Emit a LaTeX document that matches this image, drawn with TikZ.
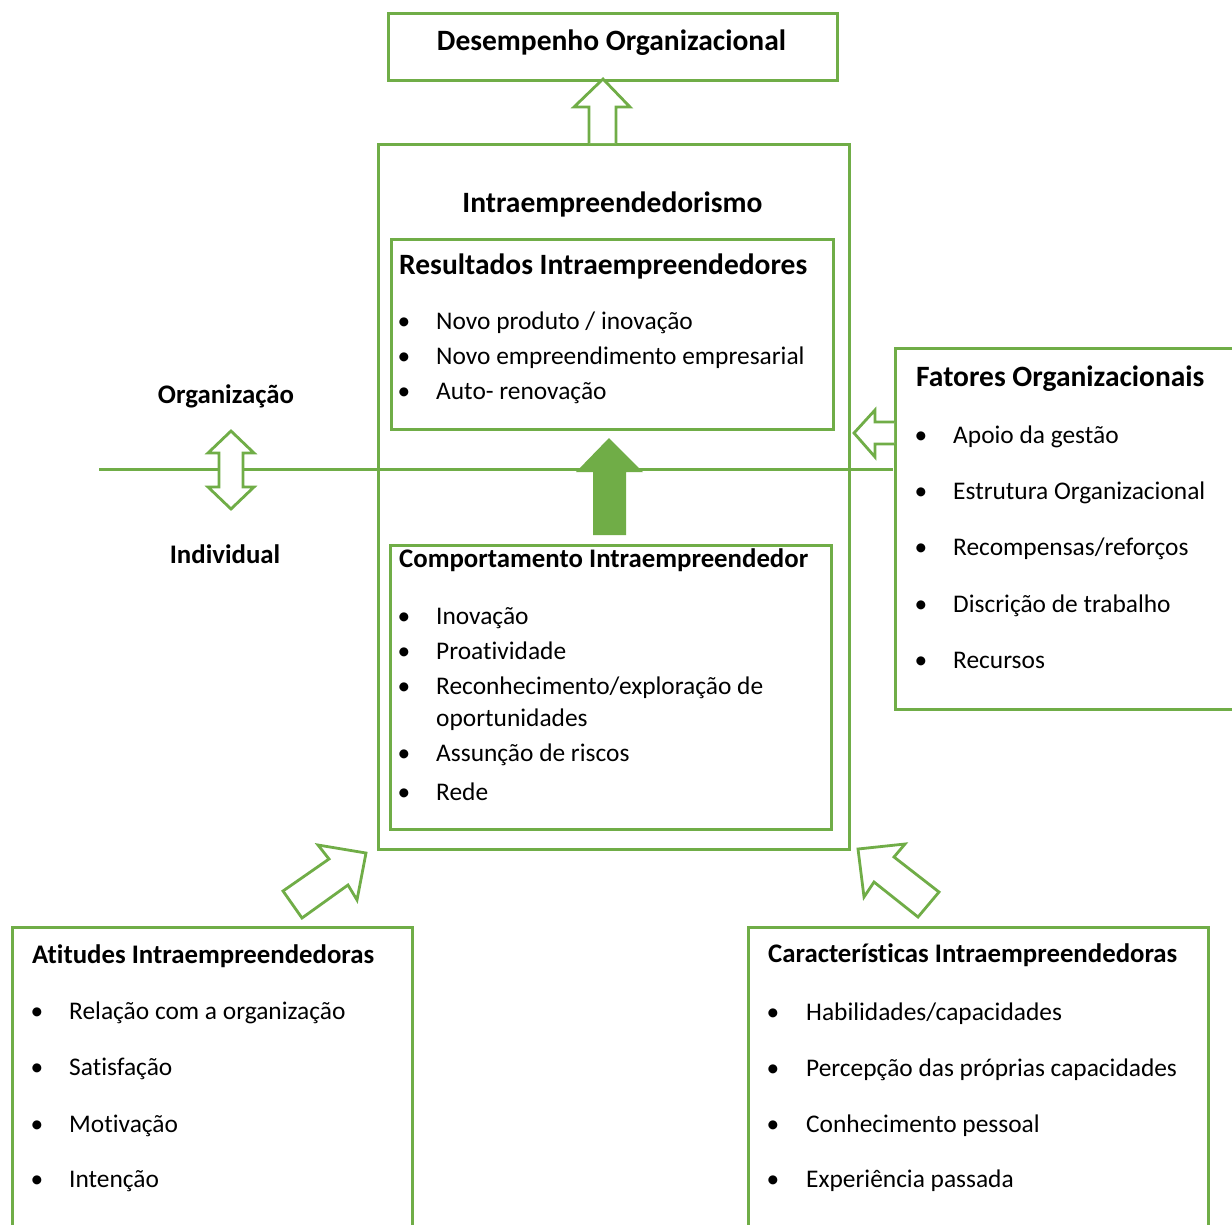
\documentclass[tikz,border=0pt]{standalone}
\usepackage{fontspec}
\setmainfont{Carlito}[Ligatures={NoCommon}]
\definecolor{ogreen}{HTML}{70AD47}
\begin{document}
\begin{tikzpicture}[x=1pt,y=-1pt,
  box/.style={draw=ogreen,line width=2.8pt,inner sep=0,anchor=north west},
  barrow/.style={draw=ogreen,line width=2.8pt,fill=white,line join=miter},
  bigtitle/.style={inner sep=0,font=\fontsize{29.5}{34}\selectfont\bfseries},
  subtitle/.style={inner sep=0,anchor=base west,font=\fontsize{29.5}{34}\selectfont\bfseries},
  smalltitle/.style={inner sep=0,anchor=base west,font=\fontsize{26.8}{32}\selectfont\bfseries},
  item/.style={inner sep=0,anchor=base west,font=\fontsize{25.4}{30}\selectfont},
  bul/.style={inner sep=0,anchor=base,font=\fontsize{25.4}{30}\selectfont}]
\clip (0,0) rectangle (1232,1224);
\fill[white] (0,0) rectangle (1232,1224);

% horizontal organisation/individual line
\coordinate (lstart) at (99,469);
\coordinate (lend) at (893,469);
\draw[ogreen,line width=3pt] (lstart) -- (lend);

% boxes
\node[box,minimum width=449pt,minimum height=67pt] (des) at (387,12) {};
\node[box,minimum width=471pt,minimum height=705pt] (intra) at (377,143) {};
\node[box,minimum width=442pt,minimum height=190pt] (res) at (390,238) {};
\node[box,minimum width=441pt,minimum height=284pt] (comp) at (389,544) {};
\node[box,minimum width=350pt,minimum height=361pt] (fat) at (894,347) {};
\node[box,minimum width=400pt,minimum height=310pt] (ati) at (11,926) {};
\node[box,minimum width=460pt,minimum height=310pt] (car) at (747,926) {};

% block arrows
\draw[barrow] (589,143) -- (589,107) -- (574,107) -- (603,79) -- (630,107) -- (616,107) -- (616,143);
\fill[ogreen] (593,535) -- (593,472) -- (576,472) -- (609,438) -- (643,472) -- (626,472) -- (626,535) -- cycle;
\draw[barrow] (231,431) -- (254,453) -- (243,453) -- (243,487) -- (254,487) -- (231,509) -- (208,487) -- (219,487) -- (219,453) -- (208,453) -- cycle;
\draw[barrow] (894,422) -- (875,422) -- (875,410) -- (854,433) -- (875,457) -- (875,444) -- (894,444);
\draw[barrow] (283,891) -- (329,859) -- (318,845) -- (366,853) -- (357,900) -- (348,885) -- (302,918) -- cycle;
\draw[barrow] (939,892) -- (894,857) -- (905,844) -- (858,849) -- (864,897) -- (874,882) -- (918,917) -- cycle;

% texts
\node[bigtitle,anchor=base] (tdes) at (611.5,50) {Desempenho Organizacional};
\node[bigtitle,anchor=base] (tintra) at (612.5,212) {Intraempreendedorismo};
\node[subtitle] (tres) at (399,274) {Resultados Intraempreendedores};
\node[bul] (rb1) at (404,329) {•};
\node[item] (r1) at (436,329) {Novo produto / inovação};
\node[bul] (rb2) at (404,364) {•};
\node[item] (r2) at (436,364) {Novo empreendimento empresarial};
\node[bul] (rb3) at (404,399) {•};
\node[item] (r3) at (436,399) {Auto- renovação};

\node[smalltitle] (tcomp) at (399,567) {Comportamento Intraempreendedor};
\node[bul] (cb1) at (404,624) {•};
\node[item] (c1) at (436,624) {Inovação};
\node[bul] (cb2) at (404,659) {•};
\node[item] (c2) at (436,659) {Proatividade};
\node[bul] (cb3) at (404,694) {•};
\node[item] (c3) at (436,694) {Reconhecimento/exploração de};
\node[item] (c3b) at (436,726) {oportunidades};
\node[bul] (cb4) at (404,761) {•};
\node[item] (c4) at (436,761) {Assunção de riscos};
\node[bul] (cb5) at (404,800) {•};
\node[item] (c5) at (436,800) {Rede};

\node[subtitle] (tfat) at (916,386) {Fatores Organizacionais};
\node[bul] (fb1) at (921,443) {•};
\node[item] (f1) at (953,443) {Apoio da gestão};
\node[bul] (fb2) at (921,499) {•};
\node[item] (f2) at (953,499) {Estrutura Organizacional};
\node[bul] (fb3) at (921,555) {•};
\node[item] (f3) at (953,555) {Recompensas/reforços};
\node[bul] (fb4) at (921,612) {•};
\node[item] (f4) at (953,612) {Discrição de trabalho};
\node[bul] (fb5) at (921,668) {•};
\node[item] (f5) at (953,668) {Recursos};

\node[smalltitle,anchor=base] (torg) at (226,403) {Organização};
\node[smalltitle,anchor=base] (tind) at (225,563) {Individual};

\node[smalltitle] (tati) at (32,963) {Atitudes Intraempreendedoras};
\node[bul] (ab1) at (37,1019) {•};
\node[item] (a1) at (69,1019) {Relação com a organização};
\node[bul] (ab2) at (37,1075) {•};
\node[item] (a2) at (69,1075) {Satisfação};
\node[bul] (ab3) at (37,1132) {•};
\node[item] (a3) at (69,1132) {Motivação};
\node[bul] (ab4) at (37,1187) {•};
\node[item] (a4) at (69,1187) {Intenção};

\node[smalltitle] (tcar) at (768,962) {Características Intraempreendedoras};
\node[bul] (kb1) at (773,1020) {•};
\node[item] (k1) at (806,1020) {Habilidades/capacidades};
\node[bul] (kb2) at (773,1076) {•};
\node[item] (k2) at (806,1076) {Percepção das próprias capacidades};
\node[bul] (kb3) at (773,1132) {•};
\node[item] (k3) at (806,1132) {Conhecimento pessoal};
\node[bul] (kb4) at (773,1187) {•};
\node[item] (k4) at (806,1187) {Experiência passada};
\end{tikzpicture}
\end{document}
